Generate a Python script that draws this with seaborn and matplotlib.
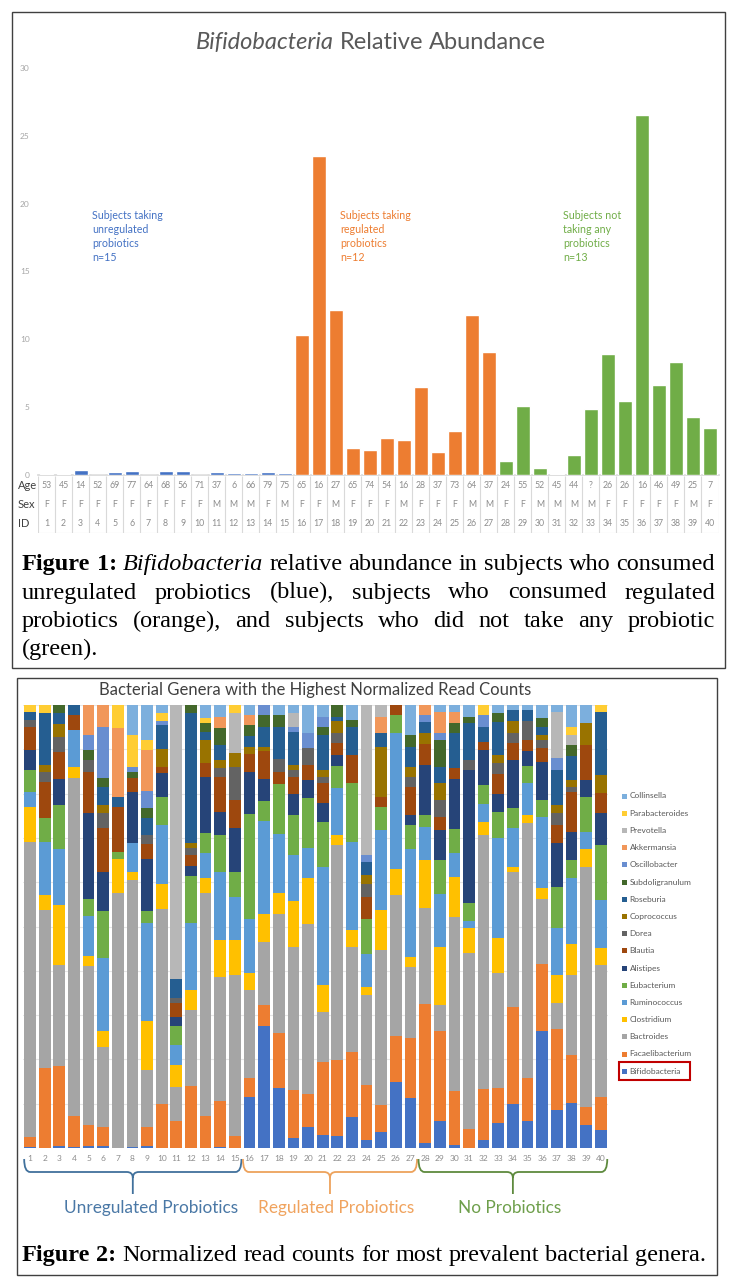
import numpy as np
import pandas as pd
import seaborn as sns
import matplotlib.pyplot as plt
from matplotlib.patches import Rectangle, PathPatch
from matplotlib.path import Path
from matplotlib.transforms import IdentityTransform, blended_transform_factory

W, H, DPI = 738, 1283, 100
SANS = ["Lato", "DejaVu Sans"]
SERIF = ["Liberation Serif", "DejaVu Serif"]

# ---------------- Figure 1 data ----------------
subject_ids = list(range(1, 41))
ages = ["53", "45", "14", "52", "69", "77", "64", "68", "56", "71", "37", "6", "66", "79", "75",
        "65", "16", "27", "65", "74", "54", "16", "28", "37", "73", "64", "37",
        "24", "55", "52", "45", "44", "?", "26", "26", "16", "46", "49", "25", "7"]
sexes = ["F", "F", "F", "F", "F", "F", "F", "F", "F", "F", "M", "M", "M", "F", "M",
         "F", "F", "M", "F", "F", "F", "M", "F", "F", "F", "M", "M",
         "F", "F", "M", "M", "M", "M", "F", "F", "F", "F", "F", "M", "F"]
groups = ["unregulated"] * 15 + ["regulated"] * 12 + ["none"] * 13
bifido_abundance = [0.1, 0.1, 0.37, 0.03, 0.25, 0.32, 0.03, 0.27, 0.32, 0.0,
                    0.2, 0.12, 0.12, 0.2, 0.12,
                    10.33, 23.53, 12.15, 1.97, 1.84, 2.75, 2.58, 6.47, 1.72, 3.25, 11.78, 9.07,
                    1.03, 5.11, 0.54, 0.1, 1.48, 4.84, 8.95, 5.43, 26.56, 6.64, 8.36, 4.30, 3.47]
group_colors = {"unregulated": "#4472C4", "regulated": "#ED7D31", "none": "#70AD47"}

# ---------------- Figure 2 data (% of reads per subject) ----------------
bifidobacteria = [0.3, 0, 0.5, 0.3, 0.5, 0.5, 0, 0.3, 0.5, 0, 0, 0, 0, 0.3, 0,
                  11.5, 27.5, 13.5, 2.3, 4.7, 3, 2.7, 7, 1.9, 3.6, 14.9, 11.3,
                  1.1, 6, 0.7, 0, 1.7, 5.6, 9.8, 6, 26.4, 8.5, 10.1, 5.1, 4]
facaelibacterium = [2.2, 18, 17.9, 7, 4.7, 4.3, 0, 0, 4.3, 10, 6.2, 14, 7.2, 10.4, 2.7,
                    4.2, 4.7, 12.4, 10.8, 7.6, 16.4, 17.1, 14.7, 12.4, 6.2, 10.3, 13.5,
                    31.4, 20.4, 12.2, 4.3, 11.7, 7.9, 21.9, 9.8, 15.3, 18.2, 10.9, 4.1, 7.5]
bactroides = [66.6, 35.7, 22.8, 76.5, 35.9, 18, 57.6, 60.3, 12.9, 44, 7.5, 17.2, 50.3, 28, 36.3,
              19.9, 14.2, 26.6, 32, 38.4, 11.3, 48.5, 23.7, 20.1, 34.8, 31.8, 16,
              21.7, 5.9, 39.3, 39.7, 57.1, 26, 30.5, 57.3, 14.7, 5.9, 18, 54.2, 29.8]
clostridium = [8.1, 3.4, 13.5, 2.6, 2.3, 3.6, 7.8, 1.9, 11, 5.6, 5.1, 4.5, 3.4, 8.3, 7.9,
               3.8, 6.4, 4.9, 10.5, 10.2, 6, 2.3, 3.8, 1.9, 9, 6, 2.3,
               10.8, 13.1, 9, 5.6, 3, 7.9, 1.1, 1.9, 2.3, 6.4, 7.1, 4.1, 3.8]
ruminococcus = [3.4, 12, 12.8, 8.3, 9, 16.7, 0, 6.4, 22.3, 13.2, 4.4, 15.1, 5.6, 15.4, 9.8,
                12.4, 21, 13.2, 10.2, 6.8, 26.7, 10.5, 19.9, 7.5, 18, 30.5, 24.4,
                7.5, 12, 5.3, 1.5, 4.1, 22.6, 8.7, 7.1, 16.2, 10.5, 14.7, 3.8, 10.9]
eubacterium = [5, 5.3, 9.8, 0, 4, 10.5, 1.5, 0, 2.6, 6.4, 4.4, 10.5, 4.5, 8.3, 5.6,
               23.7, 4.5, 11.3, 9, 11.3, 10.2, 4.9, 13.2, 7.9, 5.3, 4.1, 5.3,
               2.6, 7.5, 5.6, 4.1, 4.1, 6, 4.5, 3.8, 3.8, 9.4, 4.1, 7.9, 12.4]
alistipes = [4.5, 0, 6, 0, 19.4, 9, 0, 11.7, 12, 5.4, 2, 2.3, 12.8, 5.3, 9.8,
             9.4, 4.9, 0, 4.9, 4.1, 4.1, 2.6, 0, 0, 0, 0, 2.3,
             11.3, 6.8, 11.3, 30, 7.9, 4.1, 10.9, 3.4, 8.7, 9.8, 6.4, 3.8, 7.1]
blautia = [5.2, 8.2, 6, 3.4, 9.3, 9.8, 10.2, 3, 3.4, 1.4, 3.2, 2.6, 3, 7.9, 6.4,
           4.1, 6.4, 2.6, 3.8, 3.4, 4.5, 2.6, 6.4, 4.9, 2.3, 2.3, 6.4,
           4.9, 3, 2.3, 0, 1.9, 4.5, 3.8, 2.6, 3, 4.1, 9, 7.9, 4.5]
dorea = [1.5, 2.3, 3.4, 0, 2.6, 3.4, 0, 0, 1.9, 0, 1.1, 1.5, 0, 1.9, 7.5,
         0, 0, 3, 1.5, 3.8, 1.5, 2.3, 0, 3, 0, 0, 2.3,
         0, 3.8, 0, 2.3, 0, 2.3, 2.3, 4.1, 1.9, 2.6, 1.1, 0, 0]
coprococcus = [0, 1.5, 3, 0, 0, 1.9, 0, 0, 0, 4.1, 0, 1.1, 5.3, 1.9, 3,
               1.5, 1, 0, 1.1, 0, 1.5, 2.6, 0, 1.9, 11.3, 0, 2.3,
               2.3, 3.8, 0, 0, 0, 1.9, 2.6, 0, 1.1, 1.9, 1.5, 4.9, 4.1]
roseburia = [1.9, 11.7, 2.3, 2.3, 0, 4.1, 2.3, 0, 3.8, 5.3, 4.3, 29.3, 1.9, 3.4, 0,
             2.6, 4.5, 7.2, 7.5, 0, 7.9, 1.1, 6.4, 3, 3, 0, 4.5,
             2.6, 3.8, 7.9, 8.3, 3.4, 7.5, 2.6, 2.6, 1.9, 7.9, 5.6, 0, 14.3]
subdoligranulum = [0, 0, 1.9, 0, 2.3, 1.9, 0, 1.5, 2.3, 0, 0, 1.9, 1.9, 3.8, 0,
                   2.3, 2.6, 2.6, 0, 0, 1.9, 2.6, 1.5, 0, 0, 0, 2.6,
                   0, 6, 2.3, 1.5, 0, 1.9, 0, 0, 1.9, 0, 2.3, 0, 0]
oscillobacter = [0, 0, 0, 0, 3.4, 11.7, 0, 1.1, 3.8, 1, 0, 0, 0, 0, 0,
                 0, 2.3, 0, 1.1, 3.4, 2.3, 0, 0, 1.5, 0, 0, 0,
                 1.5, 1.5, 0, 0, 2.6, 0, 0, 0, 0, 2.6, 0, 0, 0]
akkermansia = [0, 0, 0, 0, 6.8, 4.9, 15.4, 0, 9.4, 0, 0, 0, 0, 2.6, 0,
               2.3, 0, 0, 0, 0, 0, 0, 0, 0, 3.8, 0, 0,
               2.3, 4.9, 2.6, 0, 0, 0, 0, 0, 0, 0, 0, 0, 0]
prevotella = [0, 0, 0, 0, 0, 0, 0, 0, 0, 0, 61.7, 0, 0, 0, 9,
              0, 0, 0, 3, 0, 0, 0, 0, 33.9, 2.6, 0, 0,
              0, 0, 0, 0, 0, 0, 0, 0, 0, 10.5, 2.3, 0, 0]
parabacteroides = [1.5, 1.9, 0, 0, 0, 0, 5.3, 7.2, 2.3, 1.7, 0, 0, 1.1, 0, 1.9,
                   0, 0, 0, 0, 0, 0, 0, 0, 0, 0, 0, 0,
                   0, 0, 0, 0, 2.3, 0, 0, 0, 0, 0, 1.9, 0, 1.5]
collinsella = [0, 0, 0, 0, 0, 0, 0, 6.8, 7.9, 1.9, 0, 0, 3, 2.6, 0,
               2.3, 0, 2.3, 1.9, 6.4, 2.6, 0, 3.4, 0, 0, 0, 6.8,
               0, 1.5, 1.5, 2.6, 0, 1.9, 1.1, 1.1, 3, 1.5, 4.9, 4.1, 0]

# legend order, top of the stack first
genera = ["Collinsella", "Parabacteroides", "Prevotella", "Akkermansia", "Oscillobacter",
          "Subdoligranulum", "Roseburia", "Coprococcus", "Dorea", "Blautia", "Alistipes",
          "Eubacterium", "Ruminococcus", "Clostridium", "Bactroides", "Facaelibacterium",
          "Bifidobacteria"]
genus_values = [collinsella, parabacteroides, prevotella, akkermansia, oscillobacter,
                subdoligranulum, roseburia, coprococcus, dorea, blautia, alistipes,
                eubacterium, ruminococcus, clostridium, bactroides, facaelibacterium,
                bifidobacteria]
genus_colors = ["#7CAFDD", "#FFCD33", "#B7B7B7", "#F1975A", "#698ED0", "#43682B", "#255E91",
                "#997300", "#636363", "#9E480E", "#264478", "#70AD47", "#5B9BD5", "#FFC000",
                "#A5A5A5", "#ED7D31", "#4472C4"]


def fig_rect(x0, y0, x1, y1):
    # pixel box (top-left origin) -> [left, bottom, width, height] in figure fraction
    return [x0 / W, 1 - y1 / H, (x1 - x0) / W, (y1 - y0) / H]


def pixel_box(x0, y0, x1, y1, **kw):
    fig.add_artist(Rectangle((x0 / W, 1 - y1 / H), (x1 - x0) / W, (y1 - y0) / H,
                             transform=fig.transFigure, fill=False, **kw))


def put_words(pieces, y, size, x0=None, x1=None, xc=None, color="black", family=SERIF):
    """Lay out words on one baseline; justify to x1 or centre on xc."""
    renderer = fig.canvas.get_renderer()
    texts = [fig.text(0, 1 - y / H, w, fontsize=size, color=color, family=family,
                      va="baseline", **kw) for w, kw in pieces]
    widths = [t.get_window_extent(renderer).width for t in texts]
    gap = size * DPI / 72 * 0.25
    if x1 is not None and len(texts) > 1:
        gap = (x1 - x0 - sum(widths)) / (len(texts) - 1)
    if xc is not None:
        x0 = xc - (sum(widths) + gap * (len(texts) - 1)) / 2
    x = x0
    for t, w in zip(texts, widths):
        t.set_x(x / W)
        x += w + gap


sns.set_theme(style="white")
plt.rcParams["font.family"] = SANS
fig = plt.figure(figsize=(W / DPI, H / DPI), dpi=DPI)

# ---------------- Figure 1: Bifidobacteria relative abundance ----------------
ax1 = fig.add_axes(fig_rect(38, 68, 718.5, 475))
df1 = pd.DataFrame({"ID": subject_ids, "abundance": bifido_abundance, "group": groups})
sns.barplot(data=df1, x="ID", y="abundance", hue="group", palette=group_colors, dodge=False,
            width=0.82, saturation=1, errorbar=None, legend=False, ax=ax1)
ax1.set_ylim(0, 30)
ax1.set_yticks(range(0, 31, 5))
ax1.tick_params(axis="y", labelsize=6, labelcolor="#A6A6A6", length=0, pad=6)
ax1.set_xticks([])
ax1.set_xlabel("")
ax1.set_ylabel("")
for s in ["top", "right", "left"]:
    ax1.spines[s].set_visible(False)
ax1.spines["bottom"].set_color("#D9D9D9")
ax1.spines["bottom"].set_zorder(0.5)

notes = [(2.68, "Subjects taking\nunregulated\nprobiotics\nn=15", group_colors["unregulated"]),
         (17.26, "Subjects taking\nregulated\nprobiotics\nn=12", group_colors["regulated"]),
         (30.38, "Subjects not\ntaking any\nprobiotics\nn=13", group_colors["none"])]
for xpos, txt, col in notes:
    ax1.text(xpos, 19.55, txt, color=col, fontsize=7.7, va="top", ha="left", linespacing=1.35)

put_words([("Bifidobacteria", {"style": "italic"}), ("Relative", {}), ("Abundance", {})],
          y=49, size=17, xc=371, color="#595959", family=SANS)

# data table under the bars
axt = fig.add_axes(fig_rect(38, 476, 718.5, 533))
axt.set_xlim(ax1.get_xlim())
axt.set_ylim(0, 3)
axt.axis("off")
axt.vlines(np.arange(-0.5, 40), 0, 3, color="#D9D9D9", lw=0.8)
axt.hlines([0], -0.5, 39.5, color="#D9D9D9", lw=0.8)
for row_y, label, values in [(2.5, "Age", ages), (1.5, "Sex", sexes), (0.5, "ID", subject_ids)]:
    axt.text(-0.0294, row_y, label, transform=axt.get_yaxis_transform(), ha="left",
             va="center", fontsize=8, color="#404040")
    for i, v in enumerate(values):
        axt.text(i, row_y, str(v), ha="center", va="center", fontsize=6.3, color="#8C8C8C")

pixel_box(12, 12, 725, 668, edgecolor="#404040", lw=1)

cap_size = 17.5
put_words([("Figure", {"weight": "bold"}), ("1:", {"weight": "bold"}),
           ("Bifidobacteria", {"style": "italic"})] +
          [(w, {}) for w in "relative abundance in subjects who consumed".split()],
          y=570, size=cap_size, x0=22, x1=715)
put_words([(w, {}) for w in "unregulated probiotics (blue), subjects who consumed regulated".split()],
          y=598.5, size=cap_size, x0=22, x1=715)
put_words([(w, {}) for w in "probiotics (orange), and subjects who did not take any probiotic".split()],
          y=627, size=cap_size, x0=22, x1=715)
put_words([("(green).", {})], y=655.5, size=cap_size, x0=22)

# ---------------- Figure 2: stacked genera ----------------
rows = []
for g, vals in zip(genera, genus_values):
    for sid, v in zip(subject_ids, vals):
        rows.append((sid, g, v))
df2 = pd.DataFrame(rows, columns=["ID", "genus", "reads"])

ax2 = fig.add_axes(fig_rect(22.7, 705, 608, 1148))
sns.histplot(data=df2, x="ID", weights="reads", hue="genus", hue_order=genera,
             palette=genus_colors, multiple="fill", discrete=True, shrink=0.8,
             alpha=1, linewidth=0, legend=False, ax=ax2)
ax2.set_xlim(0.5, 40.5)
ax2.set_ylim(0, 1)
ax2.set_yticks(np.arange(0, 1.01, 0.1))
ax2.set_yticklabels([])
ax2.grid(axis="y", color="#E6E6E6", lw=0.8)
ax2.set_axisbelow(True)
ax2.set_xticks(subject_ids)
ax2.tick_params(axis="x", labelsize=6, labelcolor="#8C8C8C", length=0, pad=5)
ax2.tick_params(axis="y", length=0)
ax2.set_xlabel("")
ax2.set_ylabel("")
for s in ax2.spines.values():
    s.set_visible(False)

fig.text(315 / W, 1 - 690 / H, "Bacterial Genera with the Highest Normalized Read Counts",
         ha="center", va="center", fontsize=12, color="#404040")

# legend, drawn by hand to sit beside the plot
for k, (g, col) in enumerate(zip(genera, genus_colors)):
    y = 796 + 17.2 * k
    fig.add_artist(Rectangle((622 / W, 1 - (y + 2.5) / H), 5 / W, 5 / H,
                             transform=fig.transFigure, color=col, lw=0))
    fig.text(629.5 / W, 1 - y / H, g, fontsize=6, color="#595959", va="center", ha="left")
pixel_box(619, 1062, 690, 1080, edgecolor="#C00000", lw=1.5)


def brace(xa, xb, color):
    # curly bracket under a group of bars, in display pixels
    a = ax2.transData.transform((xa, 0))[0]
    b = ax2.transData.transform((xb, 0))[0]
    c = (a + b) / 2
    yt, ym, yb, r = H - 1159, H - 1172, H - 1194, 6
    verts = [(a, yt), (a, ym), (a + r, ym), (c - r, ym), (c, ym), (c, ym - r), (c, yb),
             (c, ym - r), (c, ym), (c + r, ym), (b - r, ym), (b, ym), (b, yt)]
    codes = [Path.MOVETO, Path.CURVE3, Path.CURVE3, Path.LINETO, Path.CURVE3, Path.CURVE3,
             Path.LINETO, Path.MOVETO, Path.CURVE3, Path.CURVE3, Path.LINETO, Path.CURVE3,
             Path.CURVE3]
    fig.add_artist(PathPatch(Path(verts, codes), fill=False, edgecolor=color, lw=1.3,
                             transform=IdentityTransform()))


label_tr = blended_transform_factory(ax2.transData, fig.transFigure)
bracket_groups = [((0.6, 15.45), 9.27, "Unregulated Probiotics", "#41719C", "#4A78A6"),
                  ((15.55, 27.45), 21.9, "Regulated Probiotics", "#EDA25C", "#F0A35E"),
                  ((27.55, 40.45), 33.8, "No Probiotics", "#5E8A3E", "#6E9F4B")]
for (xa, xb), xlab, label, bcol, tcol in bracket_groups:
    brace(xa, xb, bcol)
    fig.text(xlab, 1 - 1208 / H, label, transform=label_tr, ha="center", va="center",
             fontsize=12.4, color=tcol)

pixel_box(17, 678, 717, 1275, edgecolor="#404040", lw=1)
put_words([("Figure", {"weight": "bold"}), ("2:", {"weight": "bold"})] +
          [(w, {}) for w in "Normalized read counts for most prevalent bacterial genera.".split()],
          y=1261, size=cap_size, x0=22)

fig.savefig("out.png", dpi=DPI)
